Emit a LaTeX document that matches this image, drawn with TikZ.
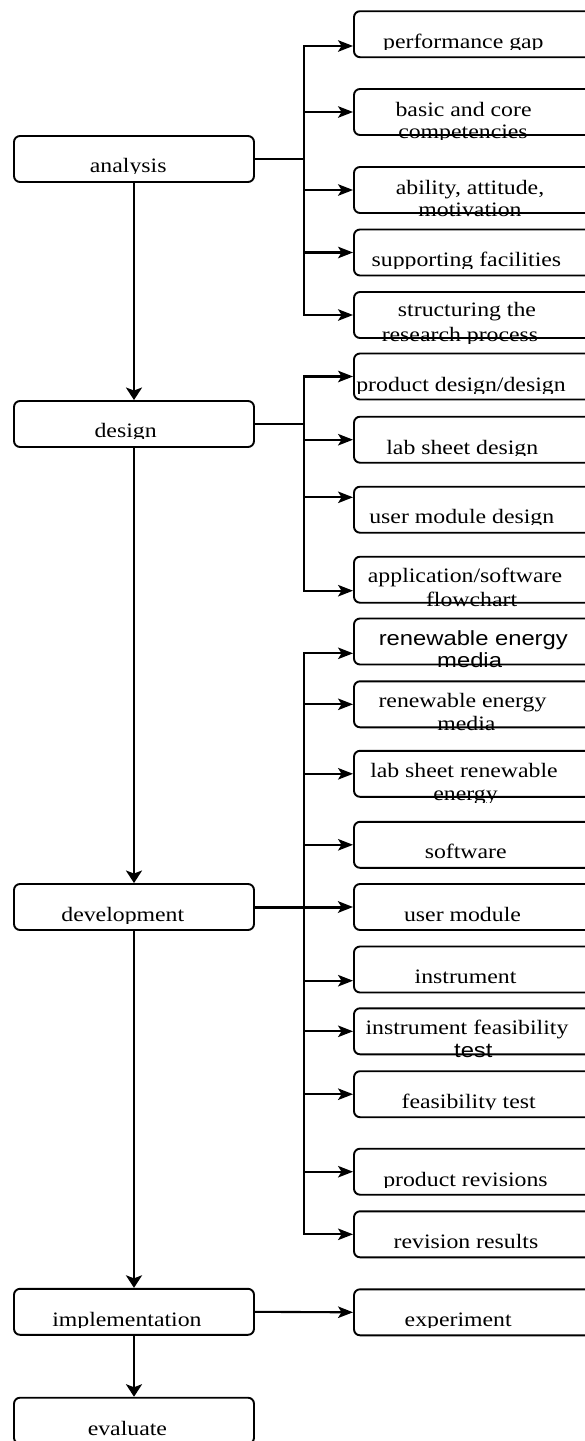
\documentclass[tikz,border=0pt]{standalone}
\usepackage{fontspec}
\usetikzlibrary{arrows.meta}
\newfontfamily\rmw{Liberation Serif}[FakeStretch=1.16]
\newfontfamily\sfw{Liberation Sans}[FakeStretch=1.16]
\newcommand\fRM{\rmw\fontsize{20.5}{24}\selectfont}
\newcommand\fSF{\sfw\fontsize{20.5}{24}\selectfont}
% one-line label, clipped just below its baseline
\newcommand\lbl[5]{%
  \begin{scope}
    \clip (#2-200,#3-60) rectangle (#2+200,#3+1.3);
    \node[lbltext,font=#4] (#1) at (#2,#3) {#5};
  \end{scope}}
% two-line label, clipped just below the second baseline
\newcommand\lblii[9]{%
  \begin{scope}
    \clip (#2-200,#3-60) rectangle (#2+200,#6+1.3);
    \node[lbltext,font=#8] (#1a) at (#2,#3) {#4};
    \node[lbltext,font=#9] (#1b) at (#5,#6) {#7};
  \end{scope}}
\tikzset{
  box/.style={draw,line width=1.9pt,rounded corners=6pt,minimum height=46pt,inner sep=0pt},
  lbox/.style={box,minimum width=240pt},
  rbox/.style={box,minimum width=250pt},
  lbltext/.style={anchor=base,inner sep=0pt},
  conn/.style={line width=2.1pt},
  harr/.style={conn,-{Stealth[length=15pt,width=11.5pt,inset=3.5pt]}},
  varr/.style={conn,line width=2.4pt,-{Stealth[length=12.5pt,width=16pt,inset=3pt]}}
}
\begin{document}
\begin{tikzpicture}[x=1pt,y=-1pt]
\useasboundingbox (0,0) rectangle (585,1441);
% left column
\node[lbox] (analysis) at (134,159) {};
\node[lbox] (design) at (134,424) {};
\node[lbox] (development) at (134,907) {};
\node[lbox] (implementation) at (134,1311.8) {};
\node[lbox] (evaluate) at (134,1420.7) {};
% right column
\node[rbox] (pg) at (479,34.2) {};
\node[rbox] (basic) at (479,112) {};
\node[rbox] (ability) at (479,190) {};
\node[rbox] (supp) at (479,252.5) {};
\node[rbox] (struct) at (479,315) {};
\node[rbox] (pdd) at (479,376.5) {};
\node[rbox] (lsd) at (479,439.7) {};
\node[rbox] (umd) at (479,509.7) {};
\node[rbox] (app) at (479,579.7) {};
\node[rbox] (renA) at (479,641.5) {};
\node[rbox] (renB) at (479,704.3) {};
\node[rbox] (lsr) at (479,773.8) {};
\node[rbox] (sw) at (479,844.8) {};
\node[rbox] (um) at (479,907) {};
\node[rbox] (instr) at (479,969.5) {};
\node[rbox] (ifeas) at (479,1031.3) {};
\node[rbox] (feas) at (479,1094.2) {};
\node[rbox] (prev) at (479,1171.7) {};
\node[rbox] (rres) at (479,1234.3) {};
\node[rbox] (exper) at (479,1312.3) {};
% bus position
\coordinate (bus) at (304,0);
% labels
\lbl{tpg}{463.4}{48.5}{\fRM}{performance gap}
\lbl{tanalysis}{128.2}{172.3}{\fRM}{analysis}
\lbl{tsupp}{466.4}{266.7}{\fRM}{supporting facilities}
\lbl{tpdd}{461}{391.7}{\fRM}{product design/design}
\lbl{tdesign}{125.6}{437.3}{\fRM}{design}
\lbl{tlsd}{462.3}{454}{\fRM}{lab sheet design}
\lbl{tumd}{461.8}{523.3}{\fRM}{user module design}
\lbl{tsw}{465.7}{858.3}{\fRM}{software}
\lbl{tdev}{122.8}{921.7}{\fRM}{development}
\lbl{tum}{462.5}{921.7}{\fRM}{user module}
\lbl{tinstr}{465.5}{983.3}{\fRM}{instrument}
\lbl{tfeas}{468.7}{1108.3}{\fRM}{feasibility test}
\lbl{tprev}{465.5}{1186}{\fRM}{product revisions}
\lbl{trres}{466}{1248.3}{\fRM}{revision results}
\lbl{timpl}{126.9}{1326}{\fRM}{implementation}
\lbl{texper}{458.2}{1326}{\fRM}{experiment}
\lbl{teval}{127.4}{1435}{\fRM}{evaluate}
\lblii{tbasic}{463.6}{116}{basic and core}{463}{138.3}{competencies}{\fRM}{\fRM}
\lblii{tability}{470}{194}{ability, attitude,}{470}{216.7}{motivation}{\fRM}{\fRM}
\lblii{tstruct}{467}{316.7}{structuring the}{460}{341.7}{research process}{\fRM}{\fRM}
\lblii{tapp}{465}{582.7}{application/software}{471.6}{606.7}{flowchart}{\fRM}{\fRM}
\lblii{trenA}{473.3}{645}{renewable energy}{469.6}{667.3}{media}{\fSF}{\fSF}
\lblii{trenB}{462.5}{707.3}{renewable energy}{466.4}{730.7}{media}{\fRM}{\fRM}
\lblii{tlsr}{464}{777.3}{lab sheet renewable}{465.5}{800.7}{energy}{\fRM}{\fRM}
\lblii{tifeas}{467}{1034.5}{instrument feasibility}{473.3}{1057.3}{test}{\fRM}{\fSF}
% analysis branches
\draw[harr] (analysis.east) -- (analysis.east -| bus) |- ([yshift=-11.8pt]pg.west);
\draw[harr] (analysis.east) -- (analysis.east -| bus) |- (basic.west);
\draw[harr] (analysis.east) -- (analysis.east -| bus) |- (ability.west);
\draw[harr] (analysis.east) -- (analysis.east -| bus) |- (supp.west);
\draw[harr] (analysis.east) -- (analysis.east -| bus) |- (struct.west);
% design branches
\draw[harr] (design.east) -- (design.east -| bus) |- (pdd.west);
\draw[harr] (design.east) -- (design.east -| bus) |- (lsd.west);
\draw[harr] (design.east) -- (design.east -| bus) |- ([yshift=12.4pt]umd.west);
\draw[harr] (design.east) -- (design.east -| bus) |- ([yshift=-11pt]app.west);
% development branches
\draw[harr] (development.east) -- (development.east -| bus) |- ([yshift=-11.8pt]renA.west);
\draw[harr] (development.east) -- (development.east -| bus) |- (renB.west);
\draw[harr] (development.east) -- (development.east -| bus) |- (lsr.west);
\draw[harr] (development.east) -- (development.east -| bus) |- (sw.west);
\draw[harr,line width=3pt] (development.east) -- (um.west);
\draw[harr] (development.east) -- (development.east -| bus) |- ([yshift=-11.2pt]instr.west);
\draw[harr] (development.east) -- (development.east -| bus) |- (ifeas.west);
\draw[harr] (development.east) -- (development.east -| bus) |- (feas.west);
\draw[harr] (development.east) -- (development.east -| bus) |- (prev.west);
\draw[harr] (development.east) -- (development.east -| bus) |- (rres.west);
% implementation
\draw[harr] (implementation.east) -- (exper.west);
% main flow
\draw[varr] (analysis.south) -- (design.north);
\draw[varr] (design.south) -- (development.north);
\draw[varr] (development.south) -- (implementation.north);
\draw[varr] (implementation.south) -- (evaluate.north);
\end{tikzpicture}
\end{document}
